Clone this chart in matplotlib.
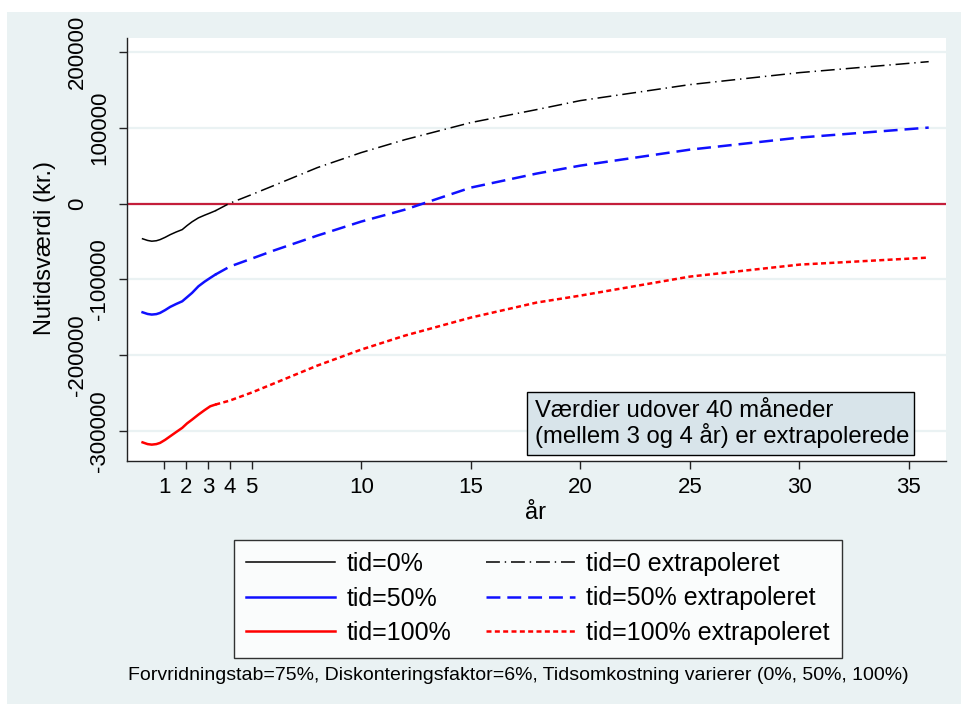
import matplotlib
matplotlib.use("Agg")
import matplotlib.pyplot as plt
from matplotlib.patches import Rectangle

plt.rcParams['font.family'] = ['Liberation Sans', 'DejaVu Sans']
plt.rcParams['lines.scale_dashes'] = False

# solid part (first 40 months), years
yrs_obs = [0.02, 0.25, 0.44, 0.65, 0.82, 1.05, 1.28, 1.55, 1.83, 2.05, 2.28, 2.57, 2.85, 3.11, 3.34]
tid0_obs = [-46400, -48600, -49600, -49000, -47500, -44500, -41000, -37500, -34300, -29000,
            -24000, -18800, -15300, -12300, -9500]
tid50_obs = [-143400, -145600, -146400, -145800, -144200, -140500, -136300, -132500, -128900,
             -123500, -117800, -109100, -103000, -98000, -93700]
tid100_obs = [-315000, -317300, -318000, -317300, -315700, -311700, -307000, -301500, -295900,
              -290000, -285000, -278400, -272500, -267400, -265200]

# extrapolated part, years
yrs_ext = [3.34, 4, 5, 6, 8, 10, 12, 15, 18, 20, 25, 30, 35.9]
tid0_ext = [-9500, 500, 11900, 23700, 47500, 67300, 84400, 106900, 124000, 135900, 157000, 172800, 187300]
tid50_ext = [-93700, -83100, -72600, -62000, -42200, -23700, -7900, 21100, 39600, 50100, 71200, 87100, 100300]
tid100_ext = [-265200, -259900, -249300, -237500, -213700, -192600, -174100, -150400, -130600, -121400, -96300, -80500, -71200]

xticks = [1, 2, 3, 4, 5, 10, 15, 20, 25, 30, 35]
yticks = [-300000, -200000, -100000, 0, 100000, 200000]

bg = '#EAF2F3'
fig = plt.figure(figsize=(9.61, 7.04), dpi=100)
fig.patch.set_facecolor('white')
fig.add_artist(Rectangle((7/961, 0), 1, 1 - 12/704, transform=fig.transFigure,
                         facecolor=bg, edgecolor='none', zorder=-10))

ax = fig.add_axes([127/961, 1 - 461/704, (946 - 127)/961, (461 - 38)/704])
ax.set_facecolor('white')
ax.set_xlim(-0.69, 36.69)
ax.set_ylim(-339600, 218500)

for v in yticks:
    ax.axhline(v, color=bg, lw=1.6, zorder=1)
ax.axhline(0, color='#C41E3A', lw=1.6, zorder=2)

ax.plot(yrs_obs, tid0_obs, color='black', lw=1.1, label='tid=0%', zorder=3)
ax.plot(yrs_obs, tid50_obs, color='#1010FF', lw=1.8, label='tid=50%', zorder=3)
ax.plot(yrs_obs, tid100_obs, color='#FF0000', lw=1.8, label='tid=100%', zorder=3)
ax.plot(yrs_ext, tid0_ext, color='black', lw=1.1, dashes=(10, 3.5, 1, 3.5),
        label='tid=0 extrapoleret', zorder=3)
ax.plot(yrs_ext, tid50_ext, color='#1010FF', lw=1.8, dashes=(10, 5),
        label='tid=50% extrapoleret', zorder=3)
ax.plot(yrs_ext, tid100_ext, color='#FF0000', lw=1.8, dashes=(3.6, 2.4),
        label='tid=100% extrapoleret', zorder=3)

for s in ['top', 'right']:
    ax.spines[s].set_visible(False)
for s in ['left', 'bottom']:
    ax.spines[s].set_color('#222222')
    ax.spines[s].set_linewidth(1.0)

ax.set_xticks(xticks)
ax.set_xticklabels([str(t) for t in xticks])
ax.set_yticks(yticks)
ax.set_yticklabels([str(t) for t in yticks], rotation=90, va='center')
ax.tick_params(axis='both', direction='out', length=5.8, width=1, color='#222222',
               labelsize=16)
ax.tick_params(axis='x', pad=6)
for i, t in enumerate(ax.yaxis.get_major_ticks()):
    t.set_pad(6.5 if i % 2 == 0 else 22.5)

fig.text(45/961, 1 - 248/704, 'Nutidsværdi (kr.)', rotation=90, ha='center',
         va='center', fontsize=17)
fig.text(536/961, 1 - 513/704, 'år', ha='center', va='center', fontsize=17)

# note box
fig.add_artist(Rectangle((527/961, 1 - 455/704), (914 - 527)/961, 63/704,
                         transform=fig.transFigure, facecolor='#D8E4EA',
                         edgecolor='black', lw=1, zorder=5))
fig.text(535/961, 1 - 424/704, 'Værdier udover 40 måneder\n(mellem 3 og 4 år) er extrapolerede',
         ha='left', va='center', fontsize=17.2, linespacing=1.05, zorder=6)

h, l = ax.get_legend_handles_labels()
leg = fig.legend(h, l, ncol=2, loc='center', bbox_to_anchor=(538/961, 1 - 598.5/704),
                 fontsize=18, frameon=True, fancybox=False, edgecolor='black',
                 handlelength=3.55, handletextpad=0.45, columnspacing=1.4,
                 labelspacing=0.42, borderpad=0.5)
leg.get_frame().set_linewidth(1.0)
leg.get_frame().set_facecolor('white')

fig.text(518/961, 1 - 676/704,
         'Forvridningstab=75%, Diskonteringsfaktor=6%, Tidsomkostning varierer (0%, 50%, 100%)',
         ha='center', va='center', fontsize=14)

fig.savefig('out.png', dpi=100, facecolor=fig.get_facecolor())
